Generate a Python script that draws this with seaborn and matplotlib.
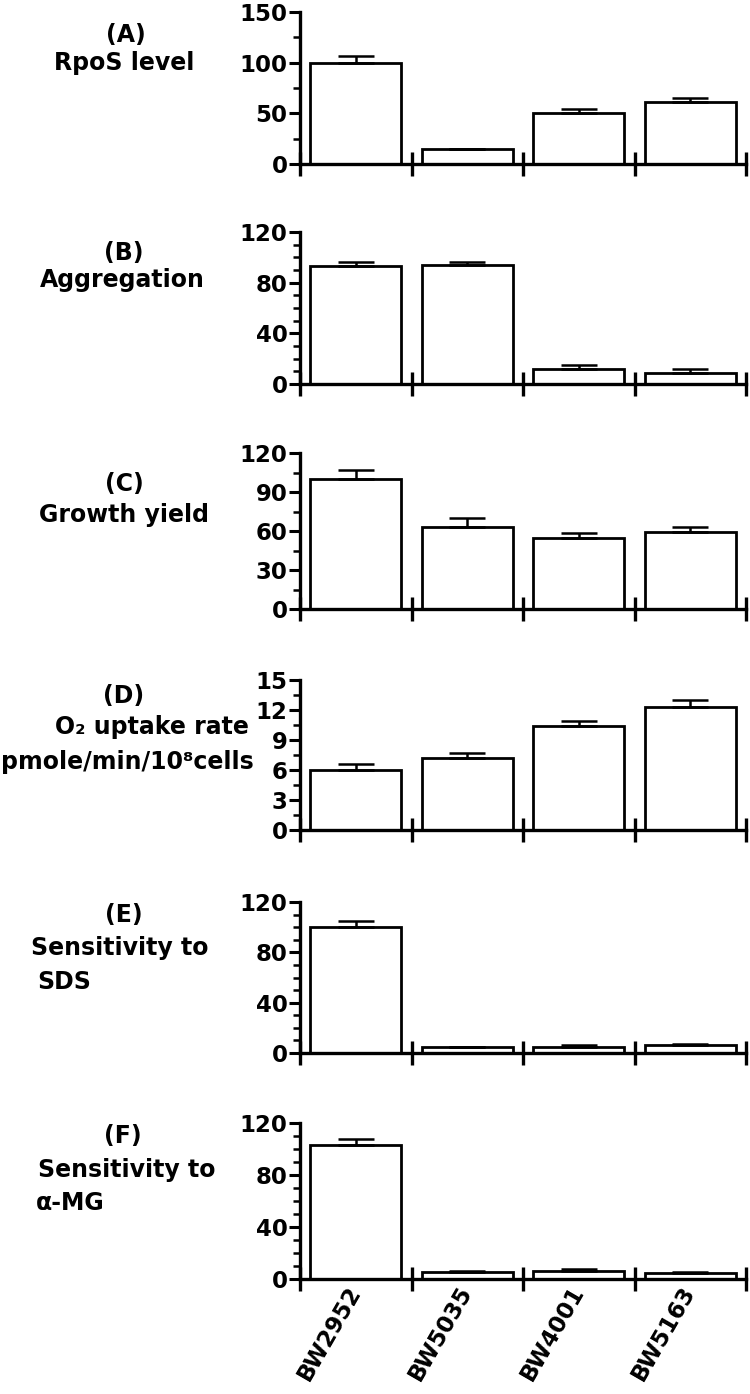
import numpy as np
import matplotlib
matplotlib.use("Agg")
import matplotlib.pyplot as plt
from matplotlib.ticker import MultipleLocator, FixedLocator
import seaborn as sns

# Strains on the x axis
strains = ["BW2952", "BW5035", "BW4001", "BW5163"]

# Panel values (mean) and upper error bars
rpos_level = [100, 15, 50, 61]
rpos_err = [7, 0, 4, 4]

aggregation = [93, 94, 12, 9]
aggregation_err = [3, 2, 3, 2.5]

growth_yield = [100, 63, 55, 59]
growth_err = [7, 7, 3.5, 4]

o2_uptake = [6.0, 7.2, 10.4, 12.3]
o2_err = [0.6, 0.55, 0.5, 0.7]

sds_sensitivity = [100, 4.5, 5, 6]
sds_err = [5, 0.5, 1, 1.5]

amg_sensitivity = [103, 5.5, 6.5, 4.5]
amg_err = [5, 1, 1, 0.7]

sns.set_style("ticks")
plt.rcParams['font.family'] = ['DejaVu Sans']
plt.rcParams['font.weight'] = 'bold'
plt.rcParams['text.color'] = 'black'
plt.rcParams['xtick.color'] = 'black'
plt.rcParams['ytick.color'] = 'black'
plt.rcParams['xtick.labelcolor'] = 'black'
plt.rcParams['ytick.labelcolor'] = 'black'

W, H = 750, 1394
fig = plt.figure(figsize=(W / 100, H / 100), dpi=100)
fig.patch.set_facecolor("white")

# (values, errors, ymax, major step, minor step, top px, bottom px)
panels = [
    (rpos_level, rpos_err, 150, 50, 25, 12, 164),
    (aggregation, aggregation_err, 120, 40, 10, 232, 384),
    (growth_yield, growth_err, 120, 30, 15, 453, 609),
    (o2_uptake, o2_err, 15, 3, 1.5, 680, 830),
    (sds_sensitivity, sds_err, 120, 40, 10, 902, 1053),
    (amg_sensitivity, amg_err, 120, 40, 10, 1123, 1279),
]

# panel labels: (x px, y px, text, alignment)
labels = [
    (126, 35, "(A)", "center"), (124, 63, "RpoS level", "center"),
    (124, 253, "(B)", "center"), (122, 280, "Aggregation", "center"),
    (124, 484, "(C)", "center"), (124, 515, "Growth yield", "center"),
    (124, 696, "(D)", "center"), (152, 727, "O\u2082 uptake rate", "center"),
    (127, 762, "pmole/min/10\u2078cells", "center"),
    (124, 915, "(E)", "center"), (120, 948, "Sensitivity to", "center"),
    (37, 982, "SDS", "left"),
    (123, 1136, "(F)", "center"), (127, 1170, "Sensitivity to", "center"),
    (36, 1203, "\u03b1-MG", "left"),
]

left, right = 300, 746
for i, (vals, errs, ymax, major, minor, top, bottom) in enumerate(panels):
    ax = fig.add_axes([left / W, 1 - bottom / H, (right - left) / W, (bottom - top) / H])
    sns.barplot(x=strains, y=vals, ax=ax, color="white", edgecolor="black",
                linewidth=2, width=0.82, saturation=1)
    ax.errorbar(np.arange(len(strains)), vals, yerr=[np.zeros(len(vals)), errs],
                fmt="none", ecolor="black", elinewidth=1.8, capsize=13, capthick=1.8)
    ax.set_xlim(-0.5, 3.5)
    ax.set_ylim(0, ymax)
    ax.yaxis.set_major_locator(MultipleLocator(major))
    ax.yaxis.set_minor_locator(MultipleLocator(minor))
    ax.xaxis.set_minor_locator(FixedLocator([-0.5, 0.5, 1.5, 2.5, 3.5]))
    sns.despine(ax=ax)
    for s in ["left", "bottom"]:
        ax.spines[s].set_linewidth(2.4)
        ax.spines[s].set_color("black")
    ax.tick_params(axis="y", which="major", direction="out", length=8, width=2.2,
                   labelsize=16.5, pad=1, colors="black")
    ax.tick_params(axis="y", which="minor", direction="out", length=5, width=1.8)
    ax.tick_params(axis="x", which="minor", direction="inout", length=17, width=2.4)
    ax.tick_params(axis="x", which="major", length=0, labelsize=16.5, pad=6)
    ax.set_xlabel("")
    ax.set_ylabel("")
    for t in ax.get_yticklabels():
        t.set_fontweight("bold")
    if i == len(panels) - 1:
        ax.set_xticks(range(len(strains)))
        ax.set_xticklabels(strains, rotation=60, ha="right", va="center",
                           rotation_mode="anchor", fontweight="bold", color="black")
    else:
        ax.set_xticklabels([])
    ax.set_facecolor("white")

for x, y, txt, ha in labels:
    fig.text(x / W, 1 - y / H, txt, ha=ha, va="center", fontsize=17,
             fontweight="bold", color="black")

fig.savefig("out.png", dpi=100, facecolor="white")
